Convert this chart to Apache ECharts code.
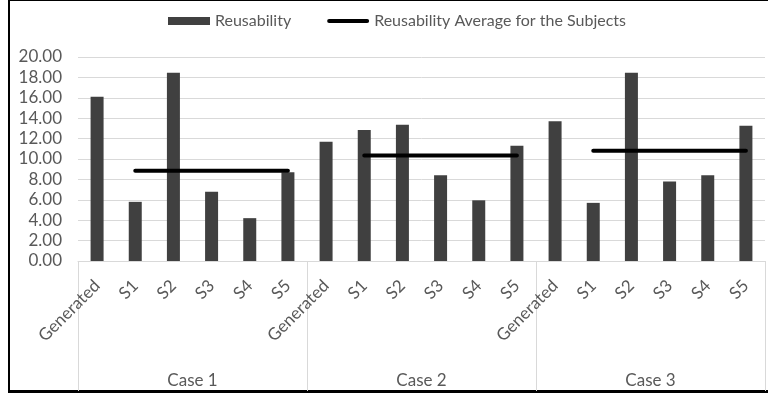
<!DOCTYPE html>
<html>
<head>
<meta charset="utf-8">
<script src="https://cdn.jsdelivr.net/npm/echarts@6/dist/echarts.min.js"></script>
<style>
  html, body { margin: 0; padding: 0; background: #fff; }
  #chart { width: 768px; height: 396px; }
</style>
</head>
<body>
<div id="chart"></div>
<script>
// Items measured in each case
const items = ['Generated', 'S1', 'S2', 'S3', 'S4', 'S5'];
const cases = ['Case 1', 'Case 2', 'Case 3'];

// Reusability per item, one array per case
const case1 = [16.1, 5.8, 18.45, 6.8, 4.2, 8.7];
const case2 = [11.7, 12.85, 13.35, 8.4, 5.95, 11.3];
const case3 = [13.7, 5.7, 18.45, 7.8, 8.4, 13.25];

// Average reusability of the subjects (S1..S5) in each case
const subjectAverages = [8.85, 10.35, 10.8];

// Y axis ticks
const yMin = 0, yMax = 20, yStep = 2;

const caseValues = [case1, case2, case3];
const categories = [];
const barData = [];
const avgData = [];
caseValues.forEach((vals, ci) => {
  items.forEach((name, i) => {
    categories.push(name);
    barData.push(vals[i]);
    // the average line spans the subjects only, not the generated item
    avgData.push(name === 'Generated' ? null : subjectAverages[ci]);
  });
});

const FONT = 'Lato, "Liberation Sans", sans-serif';
const TEXT = '#595959';
const GRID_COLOR = '#d9d9d9';
// thick rounded stroke used as the legend key of the average line
const LINE_ICON = 'path://M2,0 L40,0 A2,2 0 0 1 40,4 L2,4 A2,2 0 0 1 2,0 Z';

const chart = echarts.init(document.getElementById('chart'), null, { renderer: 'canvas' });
chart.setOption({
  animation: false,
  backgroundColor: '#fff',
  textStyle: { fontFamily: FONT },
  legend: {
    left: 163,
    top: 8,
    itemWidth: 42,
    itemHeight: 8,
    itemGap: 36,
    textStyle: { color: TEXT, fontSize: 16, fontFamily: FONT },
    data: [
      { name: 'Reusability', icon: 'rect' },
      { name: 'Reusability Average for the Subjects', icon: LINE_ICON }
    ]
  },
  grid: { left: 78, right: 3, top: 57, bottom: 135, containLabel: false },
  xAxis: [
    {
      type: 'category',
      data: categories,
      position: 'bottom',
      axisLine: { show: true, lineStyle: { color: GRID_COLOR, width: 1 } },
      axisTick: { show: false },
      axisLabel: {
        interval: 0,
        rotate: 45,
        margin: 22,
        color: TEXT,
        fontSize: 17,
        fontFamily: FONT
      }
    },
    {
      type: 'category',
      data: cases,
      position: 'bottom',
      axisLine: { show: false },
      axisTick: { show: true, length: 130, interval: 0, lineStyle: { color: GRID_COLOR, width: 1 } },
      axisLabel: { interval: 0, margin: 111, color: TEXT, fontSize: 17, fontFamily: FONT },
      splitLine: { show: false }
    }
  ],
  yAxis: {
    type: 'value',
    min: yMin,
    max: yMax,
    interval: yStep,
    axisLine: { show: false },
    axisTick: { show: false },
    axisLabel: {
      margin: 16,
      color: TEXT,
      fontSize: 17,
      fontFamily: FONT,
      formatter: v => v.toFixed(2)
    },
    splitLine: { lineStyle: { color: GRID_COLOR, width: 1 } }
  },
  series: [
    {
      name: 'Reusability',
      type: 'bar',
      xAxisIndex: 0,
      data: barData,
      barWidth: 13,
      itemStyle: { color: '#404040' }
    },
    {
      name: 'Reusability Average for the Subjects',
      type: 'line',
      xAxisIndex: 0,
      data: avgData,
      symbol: 'none',
      connectNulls: false,
      itemStyle: { color: '#000' },
      lineStyle: { color: '#000', width: 4, cap: 'round' },
      z: 3
    }
  ],
  graphic: [
    // frame: top, left and bottom rules
    { type: 'rect', shape: { x: 8, y: 0, width: 760, height: 1 }, style: { fill: '#000' }, silent: true },
    { type: 'rect', shape: { x: 8, y: 0, width: 2, height: 393 }, style: { fill: '#000' }, silent: true },
    { type: 'rect', shape: { x: 8, y: 390, width: 760, height: 3 }, style: { fill: '#000' }, silent: true }
  ]
});
</script>
</body>
</html>
